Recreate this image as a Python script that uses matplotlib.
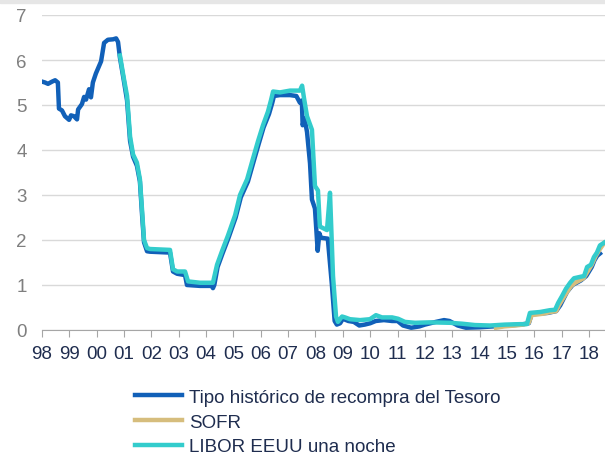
import matplotlib.pyplot as plt
from matplotlib.patches import Rectangle

# Tipo historico de recompra del Tesoro (years as decimals)
repo_x = [1998.0, 1998.11, 1998.22, 1998.37, 1998.48, 1998.58, 1998.62, 1998.73, 1998.84, 1998.99,
          1999.06, 1999.17, 1999.28, 1999.32, 1999.46, 1999.54, 1999.61, 1999.72, 1999.79, 1999.86,
          1999.97, 2000.16, 2000.27, 2000.41, 2000.6, 2000.71, 2000.78, 2000.85, 2000.99, 2001.11,
          2001.22, 2001.33, 2001.47, 2001.58, 2001.66, 2001.73, 2001.84, 2001.95, 2002.68, 2002.79,
          2002.94, 2003.23, 2003.3, 2003.78, 2004.2, 2004.25, 2004.3, 2004.42, 2004.6, 2004.82,
          2005.08, 2005.27, 2005.53, 2005.74, 2005.93, 2006.1, 2006.3, 2006.42, 2006.48, 2006.7,
          2007.07, 2007.3, 2007.43, 2007.5, 2007.53, 2007.6, 2007.69, 2007.8, 2007.87, 2007.98,
          2008.08, 2008.14, 2008.2, 2008.45, 2008.6, 2008.7, 2008.78, 2008.9, 2009.0, 2009.2,
          2009.4, 2009.6, 2009.8, 2010.0, 2010.2, 2010.5, 2010.8, 2011.0, 2011.2, 2011.5,
          2011.8, 2012.0, 2012.4, 2012.7, 2012.9, 2013.2, 2013.5, 2014.0, 2014.5, 2015.0,
          2015.5, 2015.8, 2015.9, 2016.5, 2016.8, 2016.95, 2017.2, 2017.4, 2017.7, 2017.9,
          2018.1, 2018.2, 2018.3, 2018.4]
repo_y = [5.52, 5.5, 5.47, 5.52, 5.55, 5.5, 4.92, 4.88, 4.75, 4.67,
          4.77, 4.75, 4.68, 4.9, 5.02, 5.18, 5.12, 5.35, 5.17, 5.5,
          5.7, 5.97, 6.38, 6.45, 6.46, 6.48, 6.4, 6.05, 5.55, 5.1,
          4.2, 3.85, 3.65, 3.3, 2.55, 1.95, 1.75, 1.74, 1.72, 1.3,
          1.25, 1.22, 1.0, 0.98, 0.98, 0.93, 1.0, 1.4, 1.7, 2.05,
          2.5, 2.95, 3.3, 3.75, 4.15, 4.5, 4.8, 5.05, 5.2, 5.22,
          5.22, 5.2, 5.05, 5.1, 4.55, 4.7, 4.4, 3.7, 2.9, 2.7,
          1.76, 2.15, 2.05, 2.03, 1.0, 0.2, 0.12, 0.15, 0.25, 0.2,
          0.18, 0.1, 0.12, 0.15, 0.2, 0.22, 0.2, 0.2, 0.1, 0.05,
          0.08, 0.12, 0.18, 0.22, 0.2, 0.1, 0.05, 0.06, 0.08, 0.1,
          0.12, 0.15, 0.35, 0.38, 0.42, 0.55, 0.85, 1.0, 1.1, 1.2,
          1.4, 1.55, 1.65, 1.7]

# SOFR
sofr_x = [2014.6, 2014.9, 2015.3, 2015.6, 2015.8, 2015.9, 2016.3, 2016.6, 2016.8, 2016.9,
          2017.2, 2017.35, 2017.5, 2017.8, 2017.95, 2018.1, 2018.25, 2018.4, 2018.55]
sofr_y = [0.05, 0.08, 0.1, 0.12, 0.16, 0.33, 0.36, 0.4, 0.42, 0.55,
          0.85, 0.98, 1.05, 1.15, 1.3, 1.45, 1.65, 1.8, 1.93]

# LIBOR EEUU una noche
libor_x = [2000.85, 2000.99, 2001.11, 2001.22, 2001.33, 2001.47, 2001.58, 2001.66, 2001.73, 2001.84,
           2001.95, 2002.68, 2002.79, 2002.94, 2003.23, 2003.34, 2003.78, 2004.25, 2004.4, 2004.58,
           2004.8, 2005.06, 2005.24, 2005.5, 2005.71, 2005.9, 2006.08, 2006.26, 2006.37, 2006.45,
           2006.7, 2007.07, 2007.43, 2007.51, 2007.58, 2007.69, 2007.87, 2007.98, 2008.09, 2008.16,
           2008.42, 2008.53, 2008.64, 2008.75, 2008.82, 2008.97, 2009.08, 2009.26, 2009.63, 2009.99,
           2010.21, 2010.43, 2010.8, 2011.02, 2011.27, 2011.64, 2012.19, 2012.92, 2013.36, 2013.83,
           2014.38, 2014.93, 2015.48, 2015.73, 2015.84, 2016.21, 2016.57, 2016.76, 2016.87, 2017.01,
           2017.16, 2017.31, 2017.45, 2017.67, 2017.82, 2017.93, 2018.07, 2018.18, 2018.29, 2018.4,
           2018.58]
libor_y = [6.1, 5.6, 5.2, 4.3, 3.9, 3.72, 3.35, 2.65, 2.0, 1.82,
           1.8, 1.78, 1.35, 1.3, 1.3, 1.08, 1.05, 1.05, 1.45, 1.75,
           2.1, 2.55, 3.0, 3.35, 3.8, 4.2, 4.55, 4.85, 5.1, 5.3,
           5.28, 5.32, 5.32, 5.43, 5.15, 4.75, 4.45, 3.2, 3.1, 2.3,
           2.22, 3.05, 1.2, 0.3, 0.18, 0.3, 0.28, 0.24, 0.22, 0.24,
           0.33, 0.28, 0.28, 0.25, 0.18, 0.16, 0.17, 0.16, 0.14, 0.11,
           0.1, 0.12, 0.13, 0.13, 0.38, 0.4, 0.44, 0.45, 0.6, 0.75,
           0.92, 1.05, 1.15, 1.18, 1.2, 1.4, 1.45, 1.62, 1.72, 1.88,
           1.95]

years = list(range(1998, 2019))
year_labels = [str(y)[2:] for y in years]

plt.rcParams['font.family'] = ['Liberation Sans', 'DejaVu Sans']

fig = plt.figure(figsize=(6.05, 4.56), dpi=100)
fig.patches.append(Rectangle((0, 452 / 456), 1, 4 / 456, transform=fig.transFigure,
                             color='#e6e6e6', zorder=0))
ax = fig.add_axes([42 / 605, 125 / 456, 563 / 605, 315 / 456])

ax.plot(repo_x, repo_y, color='#1160b8', lw=3.2, label='Tipo histórico de recompra del Tesoro')
ax.plot(sofr_x, sofr_y, color='#d6bd7d', lw=3.2, label='SOFR')
ax.plot(libor_x, libor_y, color='#33cccc', lw=3.2, label='LIBOR EEUU una noche')

ax.set_ylim(0, 7)
ax.set_xlim(1998, 1998 + 563 / 27.35)
ax.set_yticks(range(0, 8))
ax.set_xticks(years)
ax.set_xticklabels(year_labels)
ax.grid(axis='y', color='#d9d9d9', lw=1)
ax.set_axisbelow(True)
for s in ['top', 'right', 'left']:
    ax.spines[s].set_visible(False)
ax.spines['bottom'].set_color('#a6a6a6')
ax.tick_params(axis='y', length=0, pad=11, labelsize=13.5, labelcolor='#7f7f7f')
ax.tick_params(axis='x', length=5, color='#a6a6a6', pad=6, labelsize=13.5, labelcolor='#1f2d4f')

fig.legend(loc='upper left', bbox_to_anchor=(118 / 605, 1 - 373 / 456), frameon=False,
           fontsize=13.5, handlelength=2.5, handletextpad=0.4, labelspacing=0.4,
           labelcolor='#1f2d4f')

fig.savefig('out.png', dpi=100)
